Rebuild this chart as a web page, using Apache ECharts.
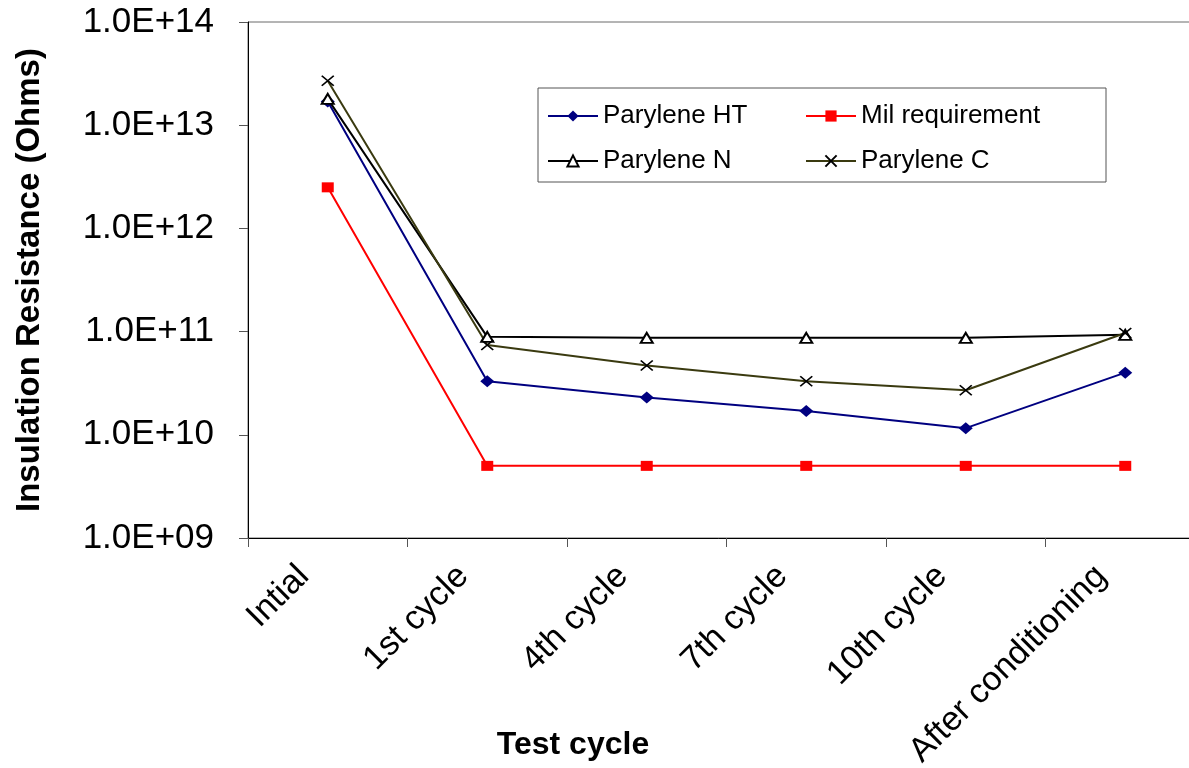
<!DOCTYPE html>
<html>
<head>
<meta charset="utf-8">
<title>Insulation Resistance</title>
<script src="https://cdn.jsdelivr.net/npm/echarts@6/dist/echarts.min.js"></script>
<style>
    html, body { margin: 0; padding: 0; background: #fff; }
    #echartsGraph { width: 1189px; height: 768px; }
</style>
</head>
<body>
<div id="echartsGraph"></div>
<script>
"use strict";
// categories on the x axis
var cycles = ['Intial', '1st cycle', '4th cycle', '7th cycle', '10th cycle', 'After conditioning'];
// insulation resistance values (Ohms)
var paryleneHT = [1.7e13, 3.3e10, 2.3e10, 1.7e10, 1.16e10, 4.0e10];
var milRequirement = [2.5e12, 5e9, 5e9, 5e9, 5e9, 5e9];
var paryleneN = [1.8e13, 8.9e10, 8.7e10, 8.7e10, 8.7e10, 9.3e10];
var paryleneC = [2.7e13, 7.4e10, 4.7e10, 3.3e10, 2.7e10, 9.7e10];
var yTicks = [1e9, 1e10, 1e11, 1e12, 1e13, 1e14];

var FONT = "'Liberation Sans', Arial, sans-serif";

//fill the chart
function initGraph() {
    var myChart = echarts.init(document.getElementById('echartsGraph'));
    var initOptions = {
        animation: false,
        backgroundColor: '#fff',
        grid: {
            left: 248,
            top: 22,
            width: 957,
            height: 516,
            outerBoundsMode: 'none',
            containLabel: false,
            show: true,
            borderColor: '#6a6a6a',
            borderWidth: 1
        },
        legend: [
            {
                data: ['Parylene HT', 'Parylene N'],
                orient: 'vertical',
                left: 547,
                top: 103,
                padding: 0,
                itemGap: 19,
                itemWidth: 50,
                itemHeight: 14,
                z: 10,
                textStyle: { fontFamily: FONT, fontSize: 26, color: '#000' }
            },
            {
                data: ['Mil requirement', 'Parylene C'],
                orient: 'vertical',
                left: 805,
                top: 103,
                padding: 0,
                itemGap: 19,
                itemWidth: 50,
                itemHeight: 14,
                z: 10,
                textStyle: { fontFamily: FONT, fontSize: 26, color: '#000' }
            }
        ],
        graphic: [
            {
                type: 'rect',
                z: 5,
                shape: { x: 538, y: 88, width: 568, height: 94 },
                style: { fill: '#fff', stroke: '#555', lineWidth: 1 }
            },
            {
                type: 'text',
                x: 573,
                y: 745,
                style: {
                    text: 'Test cycle',
                    fontFamily: FONT,
                    fontSize: 32,
                    fontWeight: 'bold',
                    fill: '#000',
                    align: 'center',
                    verticalAlign: 'middle'
                }
            }
        ],
        xAxis: {
            type: 'category',
            data: cycles,
            boundaryGap: true,
            axisLine: { lineStyle: { color: '#000', width: 1 } },
            axisTick: { show: true, length: 9, lineStyle: { color: '#555' } },
            axisLabel: {
                rotate: 45,
                interval: 0,
                margin: 9,
                padding: [0, 34, 0, 0],
                fontFamily: FONT,
                fontSize: 34,
                color: '#000'
            },
            splitLine: { show: false }
        },
        yAxis: {
            type: 'log',
            logBase: 10,
            min: yTicks[0],
            max: yTicks[yTicks.length - 1],
            name: 'Insulation Resistance (Ohms)',
            nameLocation: 'middle',
            nameRotate: 90,
            nameGap: 202,
            nameTextStyle: { fontFamily: FONT, fontSize: 33, fontWeight: 'bold', color: '#000' },
            axisLine: { show: true, lineStyle: { color: '#000', width: 1 } },
            axisTick: { show: true, length: 9, lineStyle: { color: '#555' } },
            axisLabel: {
                margin: 34,
                fontFamily: FONT,
                fontSize: 35,
                color: '#000',
                formatter: function (v) {
                    var e = Math.round(Math.log10(v));
                    return '1.0E+' + (e < 10 ? '0' + e : e);
                }
            },
            splitLine: { show: false },
            minorTick: { show: false }
        },
        series: [
            {
                name: 'Parylene HT',
                type: 'line',
                data: paryleneHT,
                symbol: 'diamond',
                symbolSize: [14, 12],
                z: 4,
                lineStyle: { color: '#000080', width: 2 },
                itemStyle: { color: '#000080' }
            },
            {
                name: 'Mil requirement',
                type: 'line',
                data: milRequirement,
                symbol: 'rect',
                symbolSize: [12, 10],
                z: 3,
                lineStyle: { color: '#ff0000', width: 2 },
                itemStyle: { color: '#ff0000' }
            },
            {
                name: 'Parylene N',
                type: 'line',
                data: paryleneN,
                symbol: 'triangle',
                symbolSize: [12, 10],
                z: 4,
                lineStyle: { color: '#000', width: 2 },
                itemStyle: { color: '#fff', borderColor: '#000', borderWidth: 2 }
            },
            {
                name: 'Parylene C',
                type: 'line',
                data: paryleneC,
                symbol: 'path://M0,0L10,10M10,0L0,10',
                symbolSize: [12, 10],
                z: 4,
                lineStyle: { color: '#3a3a10', width: 2 },
                itemStyle: { color: '#000', borderColor: '#000', borderWidth: 1.6 }
            }
        ]
    };
    myChart.setOption(initOptions);
    return myChart;
}

var myChart = initGraph();

//响应容器大小的变化
window.onresize = function () {
    myChart.resize();
};
</script>
</body>
</html>
